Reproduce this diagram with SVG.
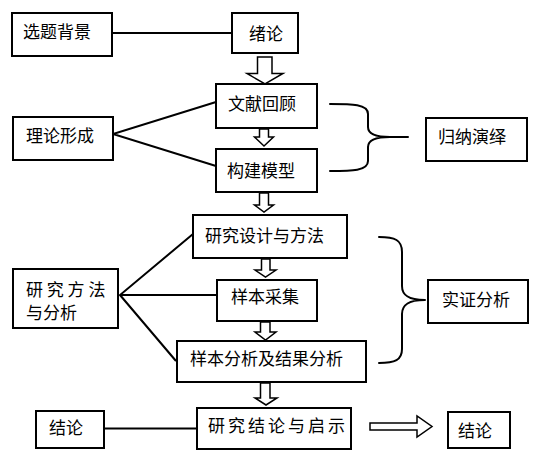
<svg xmlns="http://www.w3.org/2000/svg" width="547" height="459" viewBox="0 0 547 459">
<style>
.box{fill:#fff;stroke:#000;stroke-width:2}
.t{font-family:"Noto Sans CJK SC","Noto Sans CJK JP",sans-serif;font-size:17px;fill:#000}
.ln{stroke:#000;stroke-width:2;fill:none}
.br{stroke:#000;stroke-width:2;fill:none;stroke-linecap:round}
.ha{fill:#fff;stroke:#000;stroke-width:1.5;stroke-linejoin:miter}
</style>
<rect width="547" height="459" fill="#fff"/>
<g id="connectors">
<line class="ln" x1="112" y1="33" x2="232" y2="33"/>
<polyline class="ln" points="216,102 113,134 216,166"/>
<polyline class="ln" points="193,234 120,295 176,361"/>
<line class="ln" x1="120" y1="295" x2="217" y2="295"/>
<line class="ln" x1="104" y1="428.5" x2="197" y2="428.5"/>
<path class="br" d="M330,104 C352,104 368,104 368,114 L368,127 C368,134 376,137 390,137 L408,137 M390,137 C376,137 368,140 368,147 L368,161 C368,171 352,171 330,171"/>
<path class="br" d="M379,237 C395,237 402,240 402,252 L402,286 C402,295 408,300 425,300 M425,300 C408,300 402,305 402,314 L402,349 C402,360 395,363 379,363"/>
<polygon class="ha" points="257.5,57 272,57 272,73.5 283,73.5 265,84 247,73.5 257.5,73.5"/>
<polygon class="ha" points="259.5,129 268.5,129 268.5,137 273.5,137 264,146 254.5,137 259.5,137"/>
<polygon class="ha" points="259.5,193 268.5,193 268.5,205 273.5,205 264,212 254.5,205 259.5,205"/>
<polygon class="ha" points="261.5,259 270,259 270,270 276,270 265.5,277 255,270 261.5,270"/>
<polygon class="ha" points="260.5,322 270,322 270,332 276,332 265.5,340 255,332 260.5,332"/>
<polygon class="ha" points="260.5,383 270,383 270,398 277,398 266,405 255,398 260.5,398"/>
<polygon class="ha" points="370,423 417,423 417,416 432,426.5 417,437 417,430 370,430"/>
</g>
<g id="n_xtbj"><rect class="box" x="12" y="13" width="100" height="43"/><text class="t" x="23" y="38">选题背景</text></g>
<g id="n_xl"><rect class="box" x="232" y="13" width="66" height="40"/><text class="t" x="249" y="39.5">绪论</text></g>
<g id="n_wxhg"><rect class="box" x="216" y="84" width="101" height="44"/><text class="t" x="228" y="110">文献回顾</text></g>
<g id="n_gjmx"><rect class="box" x="216" y="149" width="101" height="43"/><text class="t" x="227" y="176.5">构建模型</text></g>
<g id="n_llxc"><rect class="box" x="13" y="117" width="100" height="43"/><text class="t" x="26" y="141.5">理论形成</text></g>
<g id="n_gnyy"><rect class="box" x="426" y="118" width="101" height="43"/><text class="t" x="438" y="143">归纳演绎</text></g>
<g id="n_yjsj"><rect class="box" x="193" y="215" width="154" height="43"/><text class="t" x="205" y="241.5">研究设计与方法</text></g>
<g id="n_yjff"><rect class="box" x="13" y="269" width="105" height="59"/><text class="t" x="26" y="295.5">研 究 方 法</text><text class="t" x="26" y="318.5">与分析</text></g>
<g id="n_ybcj"><rect class="box" x="217" y="280" width="100" height="41"/><text class="t" x="231" y="302.5">样本采集</text></g>
<g id="n_sz"><rect class="box" x="428" y="280" width="100" height="43"/><text class="t" x="442" y="306">实证分析</text></g>
<g id="n_ybfx"><rect class="box" x="177" y="341" width="189" height="41"/><text class="t" x="190" y="365">样本分析及结果分析</text></g>
<g id="n_yjjl"><rect class="box" x="197" y="408" width="154" height="41"/><text class="t" x="208" y="431.5" letter-spacing="3">研究结论与启示</text></g>
<g id="n_jl1"><rect class="box" x="36" y="411" width="68" height="37"/><text class="t" x="49" y="434">结论</text></g>
<g id="n_jl2"><rect class="box" x="448" y="412" width="62" height="36"/><text class="t" x="458" y="437">结论</text></g>
</svg>
